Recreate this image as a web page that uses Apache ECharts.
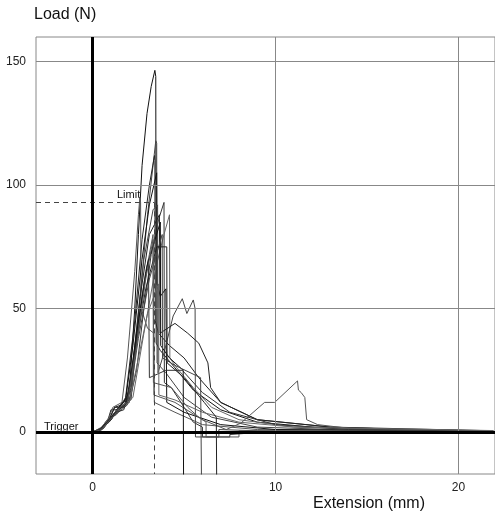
<!DOCTYPE html>
<html>
<head>
<meta charset="utf-8">
<script src="https://cdn.jsdelivr.net/npm/echarts@6/dist/echarts.min.js"></script>
<style>
  html, body { margin: 0; padding: 0; background: #fff; }
  #chart { width: 495px; height: 515px; }
</style>
</head>
<body>
<div id="chart"></div>
<script>
// tick values
var xTicks = [0, 10, 20]
var yTicks = [0, 50, 100, 150]
var limitLoad = 93
var limitExt = 3.35

// load-extension curves [mm, N]
var c1 = [[0,0],[0.4,1],[0.9,5],[1.2,10],[1.6,11],[2.0,16],[2.3,50],[2.5,80],[2.7,108],[2.97,129],[3.2,140],[3.4,146.5],[3.45,144],[3.47,36],[3.7,33],[4.5,26],[5.5,17],[7,9],[9,4],[12,2],[16,1],[21.9,0.5]]
var c2 = [[0,0],[0.5,1.5],[1.0,6],[1.3,8],[1.6,12],[2.1,13],[2.6,55],[3.0,88],[3.3,108],[3.45,118],[3.5,117],[3.52,28],[4.0,24],[5,14],[6.5,6],[9,2],[14,0.8],[21.9,0.3]]
var c3 = [[0,0],[0.3,0.5],[0.8,4],[1.0,9],[1.4,9],[1.8,14],[2.3,45],[2.7,78],[3.1,100],[3.38,112],[3.4,110],[3.42,45],[3.6,40],[4.2,35],[5,30],[5.8,22],[7,12],[9,5],[13,2],[18,0.8],[21.9,0.5]]
var c4 = [[0,0],[0.5,2],[0.9,6],[1.1,10],[1.6,12],[1.9,30],[2.3,65],[2.5,88],[2.58,95],[2.62,93],[2.65,50],[3.0,42],[3.35,40],[3.37,12],[4.5,8],[6,3],[9,1],[21.9,0.3]]
var c5 = [[0,0],[0.6,2],[1.1,6],[1.5,10],[2.0,12],[2.4,25],[2.8,50],[3.2,72],[3.6,86],[3.9,93],[3.92,20],[4.3,18],[5,10],[5.5,4],[6,2],[6,-2],[7.5,-2],[7.5,-1],[10,0.3],[21.9,0.2]]
var c6 = [[0,0],[0.4,1],[0.8,5],[1.3,7],[1.7,11],[2.2,14],[2.8,40],[3.4,65],[3.9,80],[4.2,88],[4.22,30],[4.6,26],[5.5,18],[6.5,10],[8,5],[11,2],[15,1],[21.9,0.4]]
var c7 = [[0,0],[0.5,1],[1.0,5],[1.3,9],[1.8,13],[2.2,35],[2.7,70],[3.1,92],[3.5,105],[3.52,60],[3.7,55],[4.0,58],[4.05,12],[5,8],[7,3],[10,1],[21.9,0.3]]
var c8 = [[0,0],[0.5,1],[1.0,6],[1.4,8],[1.9,11],[2.3,35],[2.8,70],[3.3,90],[3.55,92],[3.57,24],[3.9,32],[4.4,47],[4.9,54],[5.15,48],[5.5,53.5],[5.6,50],[5.62,-2],[6.9,-2],[6.9,1],[9,0.5],[21.9,0.2]]
var c9 = [[0,0],[0.3,0.5],[0.9,5],[1.2,10],[1.7,10],[2.1,20],[2.6,55],[3.1,80],[3.65,88],[3.68,40],[4.5,44],[5.2,40],[5.8,36],[6.3,28],[6.45,18],[7,12],[9,5],[13,2],[21.9,0.5]]
var c10 = [[0,0],[0.6,1.5],[1.1,7],[1.5,10],[1.9,12],[2.3,30],[2.8,60],[3.3,80],[3.35,15],[4.5,12],[6,5],[7.3,1],[8.1,3.6],[9.4,12],[9.95,12],[11.2,20.7],[11.25,17],[11.4,16],[11.6,14],[11.7,5],[12.3,3],[14,1.5],[16.6,1],[21.9,0.4]]
var c11 = [[0,0],[0.4,1],[0.9,4],[1.3,8],[1.7,9],[2.1,18],[2.5,45],[2.9,65],[3.05,70],[3.1,22],[4.0,25],[4.9,25],[6,16],[7.5,8],[10,3],[14,1],[21.9,0.3]]
var c12 = [[0,0],[0.5,1.5],[1.1,7],[1.6,10],[2.0,12],[2.5,30],[3.0,48],[3.6,60],[3.62,15],[4.5,13],[6,8],[8,4],[11,2],[21.9,0.6]]
var c13 = [[0,0],[0.5,1],[1.0,5],[1.5,10],[1.9,12],[2.4,40],[3.0,68],[3.7,85],[3.72,35],[4.2,30],[4.95,25],[4.97,-20]]
var c14 = [[0,0],[0.6,2],[1.2,8],[1.6,10],[2.0,13],[2.5,38],[3.1,62],[3.8,80],[3.82,30],[4.5,27],[5.9,22],[5.95,-20]]
var c15 = [[0,0],[0.4,1],[1.0,6],[1.4,9],[1.8,11],[2.3,32],[2.9,58],[3.5,75],[4.05,75],[4.07,28],[5,22],[6.1,12],[6.76,6],[6.78,-20]]
var c16 = [[0,0],[0.5,1],[1.1,6],[1.5,10],[1.9,12],[2.4,35],[2.9,62],[3.3,78],[3.32,20],[4.3,18],[5.2,10],[5.8,6],[6.2,4],[6.2,-2],[8,-2],[8,0.5],[21.9,0.2]]

var curves = [c1, c2, c3, c4, c5, c6, c7, c8, c9, c10, c11, c12, c13, c14, c15, c16]
var shades = ['#111', '#444', '#222', '#555', '#333', '#666']

var chart = echarts.init(document.getElementById('chart'))

var series = curves.map(function (d, i) {
  return {
    type: 'line',
    data: d,
    symbol: 'none',
    silent: true,
    lineStyle: { color: shades[i % shades.length], width: 1 }
  }
})

// grid lines, thick zero axes and the dashed limit line
series.push({
  type: 'line',
  data: [],
  silent: true,
  markLine: {
    silent: true,
    symbol: 'none',
    label: { show: false },
    data: [
      { xAxis: 10, lineStyle: { color: '#888', width: 1, type: 'solid' } },
      { xAxis: 20, lineStyle: { color: '#888', width: 1, type: 'solid' } },
      { yAxis: 50, lineStyle: { color: '#888', width: 1, type: 'solid' } },
      { yAxis: 100, lineStyle: { color: '#888', width: 1, type: 'solid' } },
      { yAxis: 150, lineStyle: { color: '#888', width: 1, type: 'solid' } },
      [{ coord: [-3.1, limitLoad] }, { coord: [limitExt, limitLoad], lineStyle: { color: '#444', width: 1, type: [5, 4] } }],
      [{ coord: [limitExt, limitLoad] }, { coord: [limitExt, -17], lineStyle: { color: '#444', width: 1, type: [5, 4] } }],
      { xAxis: 0, lineStyle: { color: '#000', width: 3, type: 'solid' } },
      { yAxis: 0, lineStyle: { color: '#000', width: 3, type: 'solid' } }
    ]
  }
})

chart.setOption({
  animation: false,
  grid: {
    left: 36,
    top: 37,
    width: 464,
    height: 437,
    show: true,
    borderColor: '#888',
    borderWidth: 1
  },
  xAxis: {
    type: 'value',
    min: -3.1,
    max: 22,
    splitLine: { show: false },
    axisLine: { show: false },
    axisTick: { show: true, customValues: xTicks, length: 4, lineStyle: { color: '#666' } },
    axisLabel: {
      customValues: xTicks,
      margin: 8,
      color: '#222',
      fontSize: 12,
      fontFamily: 'Liberation Sans'
    }
  },
  yAxis: {
    type: 'value',
    min: -17,
    max: 160,
    splitLine: { show: false },
    axisLine: { show: false },
    axisTick: { show: true, customValues: yTicks, length: 8, lineStyle: { color: '#666' } },
    axisLabel: {
      customValues: yTicks,
      margin: 10,
      color: '#222',
      fontSize: 12,
      fontFamily: 'Liberation Sans'
    }
  },
  graphic: [
    { type: 'text', left: 34, top: 7, style: { text: 'Load (N)', font: '16px Liberation Sans', fill: '#111' } },
    { type: 'text', left: 313, top: 496, style: { text: 'Extension (mm)', font: '16px Liberation Sans', fill: '#111' } },
    { type: 'text', left: 117, top: 189, style: { text: 'Limit', font: '11px Liberation Sans', fill: '#111' } },
    { type: 'text', left: 44, top: 421, style: { text: 'Trigger', font: '11px Liberation Sans', fill: '#111' } }
  ],
  series: series
})
</script>
</body>
</html>
